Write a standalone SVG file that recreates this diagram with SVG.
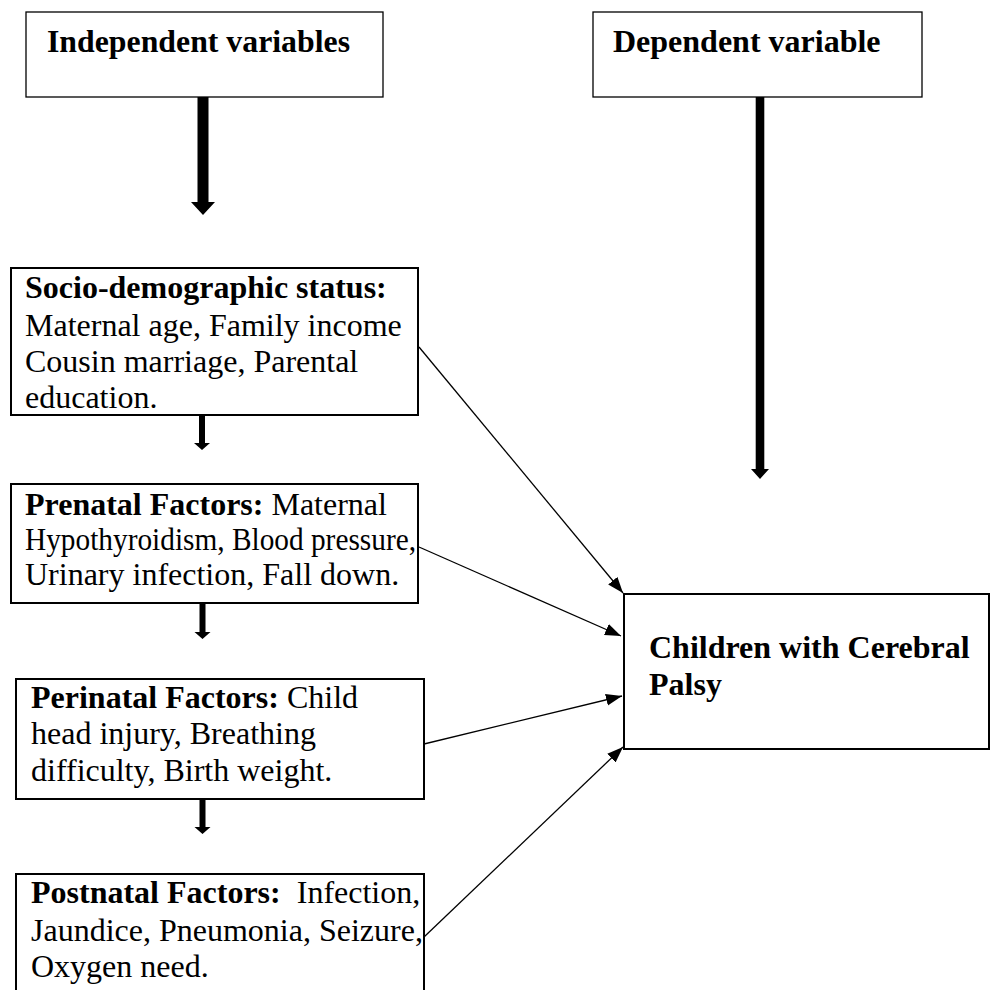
<svg xmlns="http://www.w3.org/2000/svg" width="991" height="990" viewBox="0 0 991 990">
<style>
  .box { fill: #ffffff; stroke: #000000; stroke-width: 2; }
  .hbox { fill: #ffffff; stroke: #000000; stroke-width: 1.3; }
  .t { font-family: "Liberation Serif", "Times New Roman", serif; font-size: 32px; fill: #000000; }
  .b { font-weight: bold; }
  .conn { stroke: #000000; stroke-width: 1.3; fill: none; }
  .block { fill: #000000; stroke: none; }
</style>
<defs>
  <marker id="ah" markerUnits="userSpaceOnUse" markerWidth="17" markerHeight="13" refX="16" refY="6" orient="auto">
    <path d="M0,0 L16,6 L0,12 z" fill="#000000"/>
  </marker>
</defs>
<rect width="991" height="990" fill="#ffffff"/>

<g id="independent">
  <rect class="hbox" x="26" y="12" width="357" height="85"/>
  <text class="t b" x="47" y="52" textLength="303" lengthAdjust="spacingAndGlyphs">Independent variables</text>
</g>

<g id="dependent">
  <rect class="hbox" x="593" y="12" width="329" height="85"/>
  <text class="t b" x="613" y="52">Dependent variable</text>
</g>

<g id="socio">
  <rect class="box" x="11" y="268" width="407" height="147"/>
  <text class="t b" x="25" y="298">Socio-demographic status:</text>
  <text class="t" x="25" y="336">Maternal age, Family income</text>
  <text class="t" x="25" y="372">Cousin marriage, Parental</text>
  <text class="t" x="25" y="408">education.</text>
</g>

<g id="prenatal">
  <rect class="box" x="11" y="484" width="407" height="119"/>
  <text class="t" x="25" y="515"><tspan class="b">Prenatal Factors:</tspan> Maternal</text>
  <text class="t" x="25" y="550" textLength="391" lengthAdjust="spacingAndGlyphs">Hypothyroidism, Blood pressure,</text>
  <text class="t" x="25" y="585">Urinary infection, Fall down.</text>
</g>

<g id="perinatal">
  <rect class="box" x="16" y="679" width="408" height="120"/>
  <text class="t" x="31" y="708"><tspan class="b">Perinatal Factors:</tspan> Child</text>
  <text class="t" x="31" y="744">head injury, Breathing</text>
  <text class="t" x="31" y="781">difficulty, Birth weight.</text>
</g>

<g id="postnatal">
  <rect class="box" x="16" y="874" width="408" height="130"/>
  <text class="t" x="31" y="903"><tspan class="b">Postnatal Factors:</tspan><tspan dx="16">Infection,</tspan></text>
  <text class="t" x="31" y="941">Jaundice, Pneumonia, Seizure,</text>
  <text class="t" x="31" y="977">Oxygen need.</text>
</g>

<g id="outcome">
  <rect class="box" x="624" y="594" width="365" height="155"/>
  <text class="t b" x="649" y="658">Children with Cerebral</text>
  <text class="t b" x="649" y="695">Palsy</text>
</g>

<g id="connectors">
  <path class="block" d="M197.5,97 L208.5,97 L208.5,202 L215,202 L203,215 L191,202 L197.5,202 Z"/>
  <path class="block" d="M755.7,97 L764.3,97 L764.3,469 L769,469 L760,479 L751,469 L755.7,469 Z"/>
  <path class="block" d="M199,415 L205,415 L205,443 L210,443 L202,450 L194,443 L199,443 Z"/>
  <path class="block" d="M199.5,603 L205.5,603 L205.5,632 L210.5,632 L202.5,639 L194.5,632 L199.5,632 Z"/>
  <path class="block" d="M199.5,799 L205.5,799 L205.5,827 L210.5,827 L202.5,834 L194.5,827 L199.5,827 Z"/>
  <line class="conn" x1="419" y1="347" x2="623" y2="593" marker-end="url(#ah)"/>
  <line class="conn" x1="419" y1="547" x2="621" y2="636" marker-end="url(#ah)"/>
  <line class="conn" x1="424" y1="744" x2="622" y2="696" marker-end="url(#ah)"/>
  <line class="conn" x1="424" y1="937" x2="623" y2="747" marker-end="url(#ah)"/>
</g>
</svg>
